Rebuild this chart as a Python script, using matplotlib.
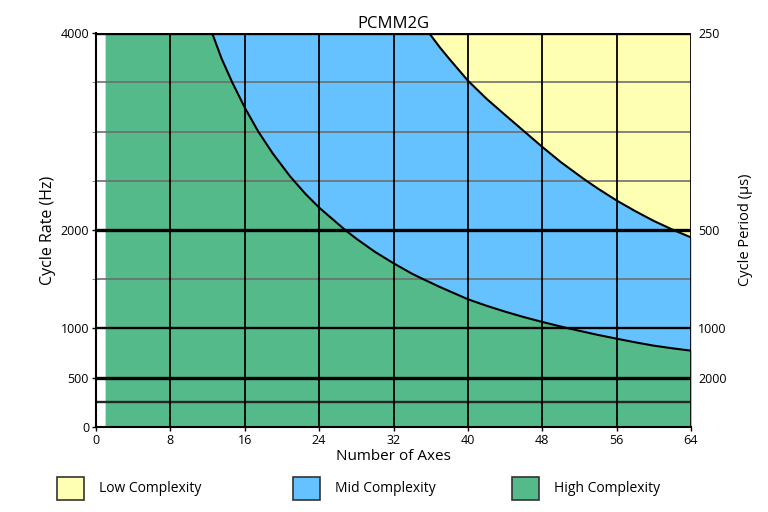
import matplotlib
matplotlib.use("Agg")
import matplotlib.pyplot as plt
from matplotlib.patches import Rectangle

plt.rcParams['font.family'] = ['Open Sans', 'DejaVu Sans']

# ---- data ----
title = "PCMM2G"
x_ticks = [0, 8, 16, 24, 32, 40, 48, 56, 64]
rate_ticks = [0, 500, 1000, 2000, 4000]
period_tick_rates = [4000, 2000, 1000, 500]
dark_grid_rates = [250, 500, 1000, 2000, 4000]
gray_grid_rates = [1500, 2500, 3000, 3500]
axes_start = 1
axes_end = 64
rate_max = 4000

# High / Mid boundary (Number of axes -> max cycle rate Hz)
high_x = [12.5, 13.5, 14.66, 16, 17.46, 19, 20.87, 22.5, 24, 26.8, 28, 30, 32,
          34, 35.2, 37, 40, 42, 44, 46, 48, 50.8, 52, 54, 56, 58, 60, 62, 64]
high_y = [4000, 3745, 3500, 3245, 3000, 2780, 2546, 2370, 2228, 2000, 1912, 1778,
          1662, 1555, 1500, 1420, 1296, 1230, 1170, 1115, 1065, 1000, 975, 933,
          895, 858, 824, 797, 773]

# Mid / Low boundary
mid_x = [35.85, 37, 38, 40, 42, 44, 45.6, 48, 50, 52.6, 54, 56, 58, 60, 62.1, 64]
mid_y = [4000, 3855, 3740, 3519, 3335, 3170, 3040, 2845, 2690, 2510, 2420, 2300,
         2192, 2092, 2000, 1925]

labels = ["Low Complexity", "Mid Complexity", "High Complexity"]
colors = ["#FFFFB4", "#66C2FF", "#55BA89"]

# ---- figure ----
fig = plt.figure(figsize=(7.68, 5.12), dpi=100)
ax = fig.add_axes([96/768, 1-426.7/512, (691-96)/768, (426.7-33.3)/512])

# regions
ax.fill_between([axes_start, axes_end], 0, rate_max, color=colors[0], lw=0, zorder=1)
bx = [axes_start] + mid_x
by = [rate_max] + mid_y
ax.fill_between(bx, 0, by, color=colors[1], lw=0, zorder=1.1)
gx = [axes_start] + high_x
gy = [rate_max] + high_y
ax.fill_between(gx, 0, gy, color=colors[2], lw=0, zorder=1.2)

# grid
for r in gray_grid_rates:
    ax.axhline(r, color="#6E6E6E", lw=1.2, zorder=2)
for r in dark_grid_rates:
    lw = 2.4 if r in (500, 2000, 4000) else 1.7
    col = "#262626" if r == 250 else "black"
    ax.axhline(r, color=col, lw=lw, zorder=2.1)
for xv in x_ticks[1:]:
    ax.axvline(xv, color="black", lw=1.3, zorder=2.1)

# boundary curves
ax.plot(high_x, high_y, color="black", lw=1.5, zorder=3, solid_joinstyle='round')
ax.plot(mid_x, mid_y, color="black", lw=1.5, zorder=3, solid_joinstyle='round')

ax.set_xlim(0, 64)
ax.set_ylim(0, rate_max)
ax.set_xticks(x_ticks)
ax.set_yticks(rate_ticks)
ax.set_yticks(gray_grid_rates, minor=True)
ax.tick_params(axis='both', labelsize=9, length=3, width=1, color="black", pad=2)
ax.tick_params(axis='y', which='minor', length=3, color="#6E6E6E")
for s in ['left', 'bottom']:
    ax.spines[s].set_linewidth(1.5)
for s in ['top', 'right']:
    ax.spines[s].set_visible(False)

ax.set_xlabel("Number of Axes", fontsize=11, labelpad=2)
ax.set_ylabel("Cycle Rate (Hz)", fontsize=11.5, labelpad=3)
ax.set_title(title, fontsize=12, pad=4)

ax2 = ax.twinx()
ax2.set_ylim(0, rate_max)
ax2.set_yticks(period_tick_rates)
ax2.set_yticklabels([str(int(round(1e6 / r))) for r in period_tick_rates])
ax2.tick_params(axis='y', length=0, labelsize=9, pad=5)
for s in ax2.spines.values():
    s.set_visible(False)
ax2.set_ylabel("Cycle Period (µs)", fontsize=10.5, labelpad=8)

# legend
box_x = [57, 293, 512]
for bxp, lab, col in zip(box_x, labels, colors):
    fig.add_artist(Rectangle((bxp/768, 1-500/512), 27/768, 23/512,
                             transform=fig.transFigure, facecolor=col,
                             edgecolor="#333333", lw=1.2))
    fig.text((bxp+42)/768, 1-489/512, lab, fontsize=10, va='center', ha='left')

fig.savefig("out.png", dpi=100)
